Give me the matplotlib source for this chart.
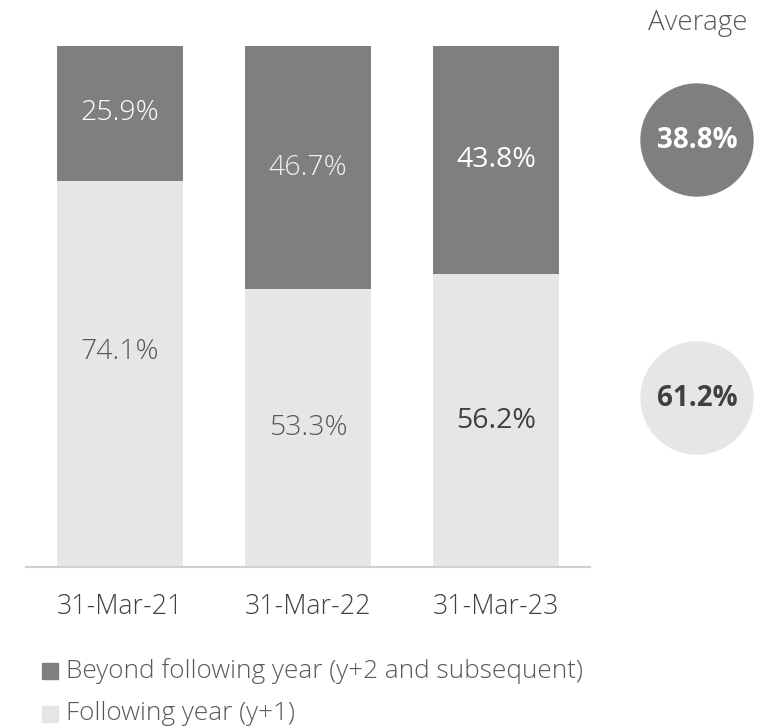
import numpy as np
import matplotlib
matplotlib.use('Agg')
import matplotlib.pyplot as plt
from matplotlib.patches import Circle, Rectangle

# data
dates = ['31-Mar-21', '31-Mar-22', '31-Mar-23']
following = [74.1, 53.3, 56.2]      # y+1
beyond = [25.9, 46.7, 43.8]         # y+2 and subsequent
avg_beyond = 38.8
avg_following = 61.2
series_names = ['Beyond following year (y+2 and subsequent)', 'Following year (y+1)']

dark = '#7f7f7f'
light = '#e6e6e6'
txt = '#404040'

plt.rcParams['font.family'] = ['Open Sans', 'DejaVu Sans']

W, H = 769, 727
fig = plt.figure(figsize=(W/100, H/100), dpi=100)

# main bar axes (pixel box: x 26..590, y 46..567)
ax = fig.add_axes([26/W, (H-567)/H, (590-26)/W, (567-46)/H])
x = np.arange(len(dates))
bw = 0.665
ax.bar(x, following, bw, color=light, zorder=2)
ax.bar(x, beyond, bw, bottom=following, color=dark, zorder=2)
ax.set_xlim(-0.5, 2.5)
ax.set_ylim(0, 100)
for s in ['top', 'right', 'left']:
    ax.spines[s].set_visible(False)
ax.spines['bottom'].set_color('#d0d0d0')
ax.spines['bottom'].set_linewidth(1.5)
ax.set_yticks([])
ax.set_xticks(x)
ax.set_xticklabels(dates, fontsize=19.3, color=txt, fontweight='light')
ax.tick_params(axis='x', length=0, pad=19)

# segment labels
f_off = [4.2, 0, 0]
f_col = ['#595959', '#595959', txt]
b_col = ['white', '#f2f2f2', 'white']
wts = ['light', 'light', 'normal']
for i in range(len(dates)):
    ax.text(x[i], following[i]/2 + f_off[i], f'{following[i]:.1f}%', ha='center', va='center',
            fontsize=20.5, color=f_col[i], fontweight=wts[i])
    ax.text(x[i], following[i] + beyond[i]/2, f'{beyond[i]:.1f}%', ha='center', va='center',
            fontsize=20.5, color=b_col[i], fontweight=wts[i])

# overlay in pixel coordinates for averages and legend
ov = fig.add_axes([0, 0, 1, 1])
ov.set_xlim(0, W)
ov.set_ylim(H, 0)
ov.axis('off')
ov.text(698, 23, 'Average', ha='center', va='center', fontsize=20, color='#595959', fontweight='light')
ov.add_patch(Circle((697, 140), 56, color=dark))
ov.add_patch(Circle((697, 398), 56, color=light))
ov.text(697, 140, f'{avg_beyond:.1f}%', ha='center', va='center', fontsize=20, color='white', fontweight='bold')
ov.text(697, 398, f'{avg_following:.1f}%', ha='center', va='center', fontsize=20, color=txt, fontweight='bold')

for j, (name, c) in enumerate(zip(series_names, [dark, light])):
    yc = 671 + j*43
    ov.add_patch(Rectangle((42, yc-8), 16, 16, color=c))
    ov.text(66, yc, name, ha='left', va='center', fontsize=18.8, color='#595959', fontweight='light')

fig.savefig('out.png', dpi=100)
